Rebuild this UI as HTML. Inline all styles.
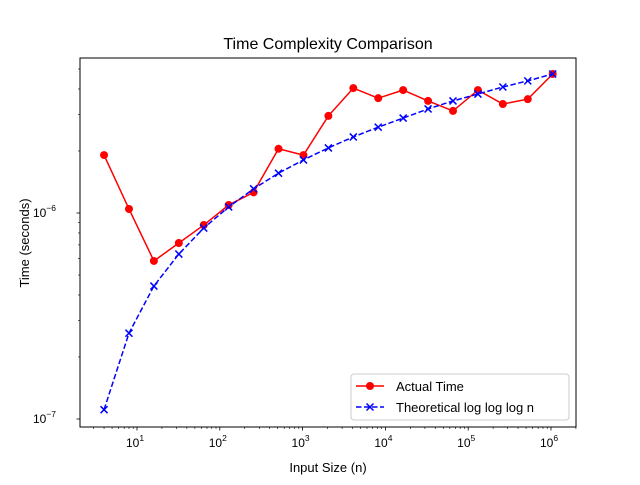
<!DOCTYPE html>
<html><head><meta charset="utf-8"><style>body{margin:0;background:#fff}svg{font-family:"Liberation Sans","DejaVu Sans",sans-serif}</style></head>
<body>
<svg id="chart" width="640" height="480" xmlns="http://www.w3.org/2000/svg">
<rect width="640" height="480" fill="#fff"/>
<text x="328" y="49" font-size="16" text-anchor="middle">Time Complexity Comparison</text>
<text x="328" y="472" font-size="13" text-anchor="middle">Input Size (n)</text>
<text x="29" y="243" font-size="13" text-anchor="middle" transform="rotate(-90 29 243)">Time (seconds)</text>
<g id="grid"></g>
<g id="series"></g>
<rect x="80" y="58" width="496" height="369" fill="none" stroke="#000" stroke-width="1"/>
<g>
<rect x="351" y="374" width="218" height="46" rx="3" fill="#fff" fill-opacity="0.8" stroke="#ccc"/>
<g>
<line x1="356" y1="386" x2="384" y2="386" stroke="red" stroke-width="1.5"/><circle cx="370" cy="386" r="4" fill="red"/>
<text x="396" y="391" font-size="13">Actual Time</text></g>
<g>
<line x1="356" y1="407" x2="384" y2="407" stroke="blue" stroke-width="1.5" stroke-dasharray="5.5,2.5"/>
<path d="M366.5 403.5L373.5 410.5M373.5 403.5L366.5 410.5" stroke="blue" stroke-width="1.5"/>
<text x="396" y="412" font-size="13">Theoretical log log log n</text></g>
</g>
</svg>
<script>
const sizes=[4,8,16,32,64,128,256,512,1024,2048,4096,8192,16384,32768,65536,131072,262144,524288,1048576];
const actual=[1.91e-6,1.046e-6,0.585e-6,0.715e-6,0.874e-6,1.093e-6,1.26e-6,2.05e-6,1.91e-6,2.96e-6,4.04e-6,3.61e-6,3.95e-6,3.50e-6,3.13e-6,3.95e-6,3.38e-6,3.57e-6,4.73e-6];
const theoretical=[1.11e-7,2.61e-7,4.42e-7,6.32e-7,8.45e-7,1.07e-6,1.31e-6,1.56e-6,1.81e-6,2.07e-6,2.34e-6,2.61e-6,2.89e-6,3.20e-6,3.50e-6,3.78e-6,4.09e-6,4.38e-6,4.73e-6];
const xTickLabels=["10","10","10","10","10","10"];
const xTickExps=[1,2,3,4,5,6];
const yTickExps=[-7,-6];
const NS="http://www.w3.org/2000/svg";
function xs(v){return 137+(Math.log10(v)-1)*82.8;}
function ys(v){return 213-(Math.log10(v)+6)*206;}
function mk(tag,attrs,parent){const e=document.createElementNS(NS,tag);for(const k in attrs)e.setAttribute(k,attrs[k]);parent.appendChild(e);return e;}
const grid=document.getElementById('grid'),ser=document.getElementById('series');
// x ticks
for(let d=0;d<=6;d++){for(let m=1;m<10;m++){const v=m*Math.pow(10,d);const x=xs(v);if(x<80||x>576)continue;
const t=mk('line',{x1:x,x2:x,y1:427,y2:m==1?430.5:429,stroke:'#000','stroke-width':m==1?0.8:0.6},grid);
}}
xTickExps.forEach((e,i)=>{const x=xs(Math.pow(10,e));const t=mk('text',{x:x-2,y:447,'font-size':12,'text-anchor':'middle'},grid);

t.textContent=xTickLabels[i];const s=mk('tspan',{dy:-6,'font-size':8.5},t);s.textContent=e;});
// y ticks
for(let d=-8;d<=-5;d++){for(let m=1;m<10;m++){const v=m*Math.pow(10,d);const y=ys(v);if(y<58||y>427)continue;
const t=mk('line',{x1:80,x2:m==1?76.5:78,y1:y,y2:y,stroke:'#000','stroke-width':m==1?0.8:0.6},grid);
}}
yTickExps.forEach(e=>{const y=ys(Math.pow(10,e));const t=mk('text',{x:56,y:y+4,'font-size':12,'text-anchor':'end'},grid);

t.textContent='10';const s=mk('tspan',{dy:-6,'font-size':8.5},t);s.textContent=String(e).replace('-','\u2212');});
// actual series
const pa=sizes.map((s,i)=>xs(s)+','+ys(actual[i])).join(' ');
const la=mk('polyline',{points:pa,fill:'none',stroke:'red','stroke-width':1.5},ser);

sizes.forEach((s,i)=>{const c=mk('circle',{cx:xs(s),cy:ys(actual[i]),r:4,fill:'red'},ser);
});
// theoretical
const pt=sizes.map((s,i)=>xs(s)+','+ys(theoretical[i])).join(' ');
const lt=mk('polyline',{points:pt,fill:'none',stroke:'blue','stroke-width':1.5,'stroke-dasharray':'5.5,2.5'},ser);

sizes.forEach((s,i)=>{const x=xs(s),y=ys(theoretical[i]);const p=mk('path',{d:`M${x-3.5} ${y-3.5}L${x+3.5} ${y+3.5}M${x+3.5} ${y-3.5}L${x-3.5} ${y+3.5}`,stroke:'blue','stroke-width':1.5},ser);
});
</script>
</body></html>
